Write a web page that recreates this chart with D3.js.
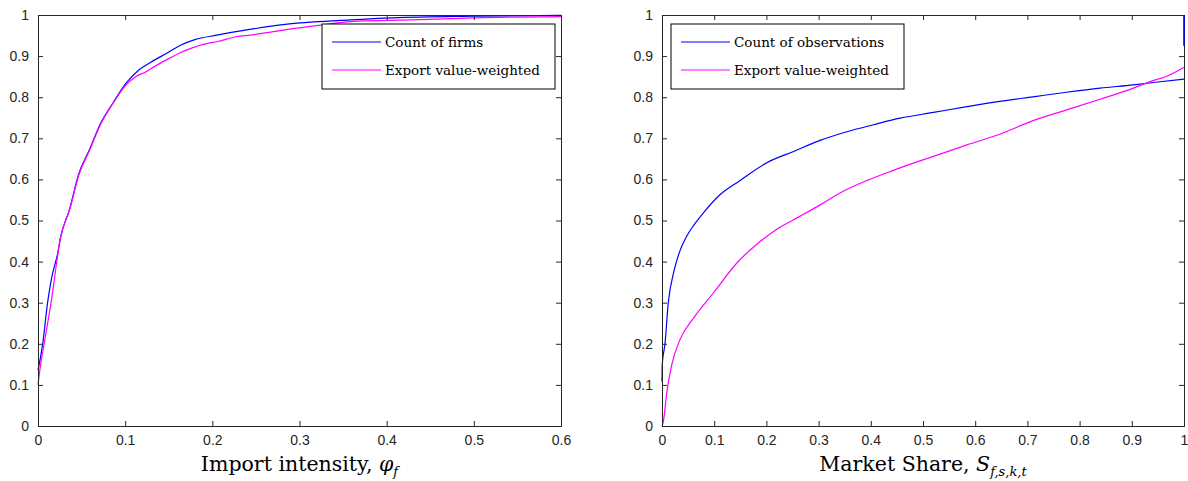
<!DOCTYPE html>
<html>
<head>
<meta charset="utf-8">
<script src="https://cdn.jsdelivr.net/npm/d3@7"></script>
<style>
  body { margin: 0; background: #fff; }
  .tick text { font-family: "Liberation Sans", Arial, sans-serif; font-size: 14px; fill: #262626; }
  .legend text { font-family: "DejaVu Serif", serif; font-size: 13.5px; fill: #000; }
  .xtitle { font-family: "DejaVu Serif", serif; font-size: 20.5px; fill: #000; }
</style>
</head>
<body>
<svg id="chart" width="1188" height="481"></svg>
<script>
// Panel 1: import intensity CDF
const importX = [0, 0.0054, 0.011, 0.016, 0.0226, 0.026, 0.036, 0.047, 0.059, 0.072, 0.086, 0.101, 0.116, 0.1285, 0.151, 0.163, 0.18, 0.205, 0.243, 0.297, 0.358, 0.407, 0.5, 0.6];
const importFirms = [0.136, 0.2, 0.3, 0.364, 0.42, 0.46, 0.526, 0.615, 0.672, 0.737, 0.786, 0.834, 0.867, 0.884, 0.911, 0.926, 0.94, 0.951, 0.965, 0.98, 0.988, 0.993, 0.997, 0.999];
const importXW = [0, 0.003, 0.007, 0.015, 0.026, 0.036, 0.047, 0.059, 0.072, 0.086, 0.101, 0.112, 0.124, 0.1285, 0.151, 0.163, 0.177, 0.197, 0.205, 0.227, 0.243, 0.297, 0.327, 0.358, 0.427, 0.5, 0.6];
const importWeighted = [0.1, 0.15, 0.2, 0.3, 0.46, 0.524, 0.612, 0.67, 0.735, 0.785, 0.83, 0.85, 0.862, 0.868, 0.895, 0.908, 0.92, 0.932, 0.935, 0.947, 0.951, 0.968, 0.976, 0.984, 0.988, 0.993, 0.996];

// Panel 2: market share CDF
const shareX = [0, 0.0005, 0.0057, 0.012, 0.022, 0.034, 0.047, 0.06, 0.079, 0.111, 0.149, 0.2, 0.252, 0.303, 0.354, 0.405, 0.456, 0.52, 0.584, 0.647, 0.711, 0.775, 0.839, 0.903, 0.95, 1.0];
const shareObs = [0.108, 0.15, 0.2, 0.3, 0.372, 0.425, 0.461, 0.487, 0.518, 0.5625, 0.597, 0.64, 0.668, 0.695, 0.716, 0.733, 0.749, 0.763, 0.777, 0.79, 0.801, 0.812, 0.822, 0.83, 0.837, 0.844];
const shareObsJump = [[1, 0.925], [1, 1]];
const shareXW = [0, 0.0025, 0.009, 0.0185, 0.034, 0.06, 0.098, 0.143, 0.188, 0.22, 0.264, 0.303, 0.341, 0.392, 0.443, 0.494, 0.52, 0.584, 0.647, 0.711, 0.775, 0.839, 0.903, 0.935, 0.967, 1.0];
const shareWeighted = [0, 0.01, 0.08, 0.148, 0.209, 0.262, 0.323, 0.396, 0.449, 0.479, 0.51, 0.538, 0.567, 0.597, 0.622, 0.645, 0.656, 0.684, 0.71, 0.743, 0.769, 0.795, 0.822, 0.838, 0.851, 0.873];

const yTicks = [0, 0.1, 0.2, 0.3, 0.4, 0.5, 0.6, 0.7, 0.8, 0.9, 1];
const importTicks = [0, 0.1, 0.2, 0.3, 0.4, 0.5, 0.6];
const shareTicks = [0, 0.1, 0.2, 0.3, 0.4, 0.5, 0.6, 0.7, 0.8, 0.9, 1];

const svg = d3.select('#chart');
const plotTop = 15, plotBottom = 426;

function zip(xs, ys) {
    return xs.map((x, i) => [x, ys[i]]);
}

function drawPanel(opts) {
    const x = d3.scaleLinear().domain(opts.xDomain).range([opts.left, opts.right]);
    const y = d3.scaleLinear().domain([0, 1]).range([plotBottom, plotTop]);
    const g = svg.append('g');
    const fmt = d => d === 0 ? '0' : d === 1 ? '1' : d3.format('.1f')(d);

    const line = d3.line().curve(d3.curveMonotoneX).x(d => x(d[0])).y(d => y(d[1]));

    // curves
    opts.series.forEach(s => {
        g.append('path')
            .datum(s.points)
            .attr('fill', 'none')
            .attr('stroke', s.color)
            .attr('stroke-width', 1.2)
            .attr('d', line);
    });

    // axes with inward ticks on all four sides
    const axisColor = '#262626';
    g.append('g').attr('transform', `translate(0,${plotBottom})`)
        .call(d3.axisBottom(x).tickValues(opts.xTicks).tickSize(-5).tickPadding(9).tickFormat(fmt));
    g.append('g').attr('transform', `translate(0,${plotTop})`)
        .call(d3.axisTop(x).tickValues(opts.xTicks).tickSize(-5).tickFormat(''));
    g.append('g').attr('transform', `translate(${opts.left},0)`)
        .call(d3.axisLeft(y).tickValues(yTicks).tickSize(-5).tickPadding(9).tickFormat(fmt));
    g.append('g').attr('transform', `translate(${opts.right},0)`)
        .call(d3.axisRight(y).tickValues(yTicks).tickSize(-5).tickFormat(''));
    g.selectAll('.domain').attr('stroke', axisColor);
    g.selectAll('.tick line').attr('stroke', axisColor);

    // extra marks drawn on top (jump at the right edge)
    (opts.extra || []).forEach(s => {
        g.append('path')
            .datum(s.points)
            .attr('fill', 'none')
            .attr('stroke', s.color)
            .attr('stroke-width', 1.6)
            .attr('d', d3.line().x(d => x(d[0])).y(d => y(d[1])));
    });

    // legend
    const lg = g.append('g').attr('class', 'legend');
    lg.append('rect')
        .attr('x', opts.legendX).attr('y', 24)
        .attr('width', 233).attr('height', 65)
        .attr('fill', '#fff').attr('stroke', '#000').attr('stroke-width', 1);
    opts.series.forEach((s, i) => {
        const ly = 42 + i * 28;
        lg.append('line')
            .attr('x1', opts.legendX + 10).attr('x2', opts.legendX + 59)
            .attr('y1', ly).attr('y2', ly)
            .attr('stroke', s.color).attr('stroke-width', 1.2);
        lg.append('text')
            .attr('x', opts.legendX + 63).attr('y', ly + 4.5)
            .text(s.name);
    });

    // x title
    const t = g.append('text')
        .attr('class', 'xtitle')
        .attr('x', (opts.left + opts.right) / 2)
        .attr('y', 471)
        .attr('text-anchor', 'middle');
    t.append('tspan').text(opts.title);
    t.append('tspan').attr('font-style', 'italic').text(opts.sym);
    t.append('tspan').attr('font-style', 'italic').attr('font-size', '13px').attr('dy', 5).text(opts.sub);
}

drawPanel({
    left: 38, right: 561,
    xDomain: [0, 0.6],
    xTicks: importTicks,
    series: [
        { name: 'Count of firms', color: '#0000ff', points: zip(importX, importFirms) },
        { name: 'Export value-weighted', color: '#ff00ff', points: zip(importXW, importWeighted) }
    ],
    legendX: 322,
    title: 'Import intensity, ', sym: 'φ', sub: 'f'
});

drawPanel({
    left: 662, right: 1184,
    xDomain: [0, 1],
    xTicks: shareTicks,
    series: [
        { name: 'Count of observations', color: '#0000ff', points: zip(shareX, shareObs) },
        { name: 'Export value-weighted', color: '#ff00ff', points: zip(shareXW, shareWeighted) }
    ],
    extra: [{ color: '#0000ff', points: shareObsJump }],
    legendX: 671,
    title: 'Market Share, ', sym: 'S', sub: 'f,s,k,t'
});
</script>
</body>
</html>
